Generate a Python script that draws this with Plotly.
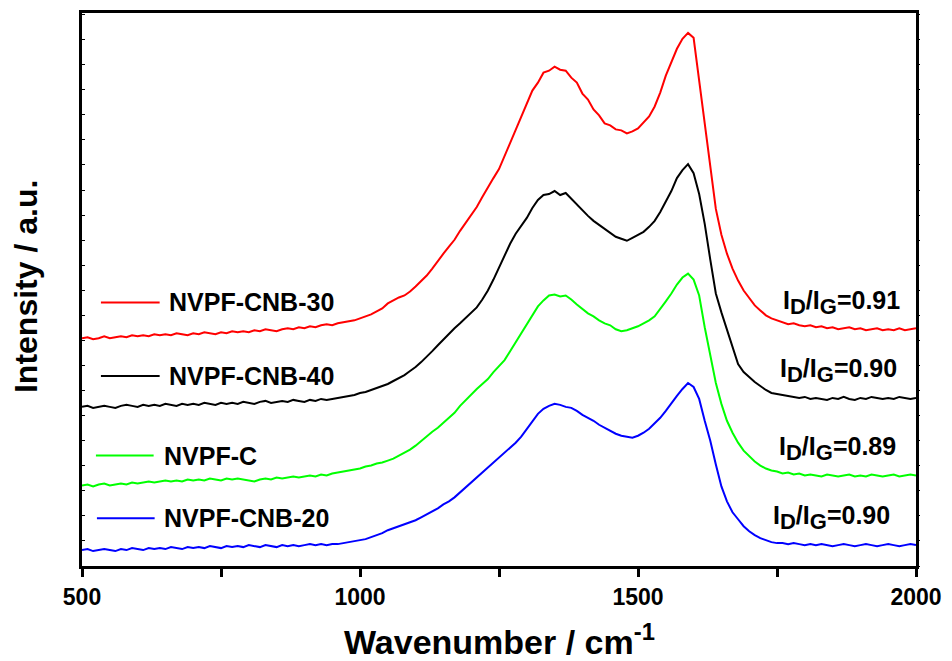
import plotly.graph_objects as go

# Wavenumber grid (cm^-1)
wavenumber = list(range(500, 2001, 10))

# Intensities (a.u., offset-stacked as in the figure)
nvpf_cnb_30 = [
    229, 230, 228, 229, 231, 229, 230, 231, 230, 232,
    231, 232, 231, 233, 232, 233, 232, 234, 233, 232,
    234, 233, 235, 234, 233, 235, 234, 236, 235, 236,
    235, 237, 236, 238, 237, 236, 238, 239, 238, 240,
    239, 241, 240, 242, 243, 242, 244, 245, 246, 247,
    249, 251, 253, 256, 259, 264, 267, 270, 272, 276,
    281, 286, 292, 299, 307, 314, 321, 328, 337, 345,
    352, 361, 371, 381, 390, 399, 412, 425, 438, 452,
    465, 478, 486, 496, 498, 502, 499, 498, 491, 486,
    475, 469, 459, 453, 445, 443, 439, 438, 435, 437,
    440, 446, 452, 462, 476, 493, 506, 520, 530, 536,
    531, 488, 440, 398, 359, 333, 314, 299, 287, 277,
    269, 262, 257, 252, 249, 247, 245, 243, 244, 242,
    241, 242, 240, 241, 239, 240, 238, 239, 240, 238,
    239, 237, 238, 239, 237, 238, 237, 239, 237, 238,
    239,
]

nvpf_cnb_40 = [
    160, 161, 159, 160, 161, 160, 159, 161, 162, 161,
    160, 162, 161, 162, 161, 163, 162, 161, 163, 162,
    163, 162, 164, 163, 162, 164, 163, 164, 163, 165,
    164, 163, 165, 166, 164, 165, 166, 165, 167, 166,
    165, 167, 166, 168, 167, 168, 169, 170, 171, 172,
    174, 175, 177, 179, 181, 183, 186, 189, 192, 196,
    200, 205, 210, 216, 222, 228, 234, 239, 244, 249,
    254, 260, 268, 277, 288, 300, 312, 324, 334, 342,
    350, 360, 368, 373, 374, 377, 373, 375, 369, 364,
    358, 352, 347, 343, 339, 335, 331, 329, 327, 330,
    333, 336, 341, 347, 356, 366, 377, 390, 398, 404,
    395, 374, 344, 308, 274, 255, 237, 219, 203, 195,
    190, 185, 181, 177, 174, 173, 172, 171, 170, 169,
    170, 168, 169, 168, 167, 169, 168, 170, 168, 167,
    169, 168, 170, 169, 168, 169, 168, 170, 169, 168,
    169,
]

nvpf_c = [
    81, 82, 80, 82, 83, 81, 82, 83, 82, 84,
    83, 84, 85, 84, 85, 86, 85, 86, 85, 87,
    86, 87, 86, 88, 87, 86, 88, 87, 88, 87,
    86, 85, 87, 88, 87, 89, 88, 89, 90, 89,
    90, 91, 90, 92, 91, 93, 94, 95, 96, 97,
    98, 100, 101, 103, 104, 106, 108, 111, 114, 117,
    121, 126, 130, 135, 139, 144, 149, 154, 161, 167,
    173, 178, 183, 188, 195, 201, 207, 216, 225, 234,
    244, 253, 261, 267, 272, 273, 271, 272, 268, 263,
    258, 254, 251, 247, 244, 242, 238, 236, 237, 239,
    241, 244, 247, 251, 258, 266, 274, 283, 290, 294,
    288, 272, 240, 210, 184, 163, 146, 134, 124, 116,
    110, 105, 101, 98, 96, 95, 93, 94, 92, 93,
    91, 92, 91, 90, 92, 91, 90, 91, 92, 90,
    91, 90, 92, 91, 90, 91, 92, 90, 91, 92,
    91,
]

nvpf_cnb_20 = [
    16, 17, 15, 16, 17, 16, 15, 17, 16, 18,
    17, 16, 18, 17, 18, 17, 19, 18, 17, 19,
    18, 19, 18, 20, 19, 18, 20, 19, 20, 19,
    21, 20, 19, 21, 20, 19, 21, 20, 21, 20,
    21, 22, 21, 22, 21, 22, 22, 23, 24, 25,
    26, 27, 29, 31, 33, 36, 38, 40, 42, 44,
    46, 49, 52, 55, 58, 62, 65, 69, 74, 79,
    84, 89, 94, 99, 104, 108, 113, 118, 124, 130,
    138, 146, 153, 158, 161, 163, 162, 160, 159, 156,
    152, 149, 146, 142, 139, 136, 133, 131, 130, 129,
    131, 134, 138, 143, 149, 156, 164, 171, 178, 184,
    180, 168, 146, 126, 102, 80, 65, 54, 47, 40,
    35, 31, 28, 26, 24, 23, 23, 22, 23, 22,
    21, 22, 21, 22, 21, 20, 21, 22, 21, 20,
    21, 22, 21, 20, 21, 22, 21, 20, 21, 22,
    21,
]

series_names = ["NVPF-CNB-30", "NVPF-CNB-40", "NVPF-C", "NVPF-CNB-20"]
series_values = [nvpf_cnb_30, nvpf_cnb_40, nvpf_c, nvpf_cnb_20]
series_colors = ["#FF0000", "#000000", "#00FF00", "#0000FF"]
ratio_labels = ["0.91", "0.90", "0.89", "0.90"]

x_tickvals = [500, 750, 1000, 1250, 1500, 1750, 2000]
x_ticktext = ["500", "", "1000", "", "1500", "", "2000"]

FONT = "Liberation Sans, Arial, sans-serif"

fig = go.Figure()
for name, vals, color in zip(series_names, series_values, series_colors):
    fig.add_trace(go.Scatter(x=wavenumber, y=vals, mode="lines", name=name,
                             line=dict(color=color, width=2), showlegend=False))

# empty trace on right-hand y axis so its ticks are drawn
fig.add_trace(go.Scatter(x=[None], y=[None], yaxis="y2", showlegend=False))

# custom legend (line sample + label), positioned like the original
legend_line_x = [(0.0227, 0.0931), (0.0227, 0.0931), (0.0167, 0.0859), (0.0179, 0.0871)]
legend_y = [0.4766, 0.3435, 0.1996, 0.0863]
legend_text_x = [0.1014, 0.1014, 0.0955, 0.0955]
for name, color, (x0, x1), ly, tx in zip(series_names, series_colors, legend_line_x, legend_y, legend_text_x):
    fig.add_shape(type="line", xref="paper", yref="paper", x0=x0, x1=x1, y0=ly, y1=ly,
                  line=dict(color=color, width=2))
    fig.add_annotation(xref="paper", yref="paper", x=tx, y=ly, text=name, showarrow=False,
                       xanchor="left", yanchor="middle",
                       font=dict(family=FONT, size=25, color="black", weight="bold"))

# I_D/I_G annotations
SUB = "<sub><span style='font-size:22px'>{}</span></sub>"
ratio_x = [0.983, 0.980, 0.979, 0.971]
ratio_y = [0.4766, 0.3543, 0.2131, 0.0872]
for r, rx, ry in zip(ratio_labels, ratio_x, ratio_y):
    fig.add_annotation(xref="paper", yref="paper", x=rx, y=ry,
                       text="I" + SUB.format("D") + "/I" + SUB.format("G") + "=" + r,
                       showarrow=False, xanchor="right", yanchor="middle",
                       font=dict(family=FONT, size=25, color="black", weight="bold"))

# axis titles
fig.add_annotation(xref="paper", yref="paper", x=0.5, y=-0.09, text="Wavenumber / cm<sup>-1</sup>",
                   showarrow=False, xanchor="center", yanchor="top",
                   font=dict(family=FONT, size=34, color="black", weight="bold"))
fig.add_annotation(xref="paper", yref="paper", x=-0.068, y=0.505, text="Intensity / a.u.",
                   showarrow=False, xanchor="center", yanchor="middle", textangle=-90,
                   font=dict(family=FONT, size=32, color="black", weight="bold"))

fig.update_layout(
    width=952, height=661,
    margin=dict(l=82, r=32, t=10, b=95),
    paper_bgcolor="white", plot_bgcolor="white",
    xaxis=dict(range=[500, 2000], tickmode="array", tickvals=x_tickvals, ticktext=x_ticktext,
               ticks="outside", ticklen=8, tickwidth=2.5, tickcolor="black",
               showline=True, linewidth=3, linecolor="black", mirror=True,
               showgrid=False, zeroline=False,
               tickfont=dict(family=FONT, size=23, color="black", weight="bold")),
    yaxis=dict(range=[0, 556], tick0=0, dtick=25.2, ticks="inside", ticklen=3, tickwidth=1,
               tickcolor="black", showticklabels=False,
               showline=True, linewidth=3, linecolor="black", mirror=True,
               showgrid=False, zeroline=False),
    yaxis2=dict(range=[0, 556], tick0=0, dtick=25.2, overlaying="y", side="right",
                ticks="outside", ticklen=3, tickwidth=1, tickcolor="black",
                showticklabels=False, showgrid=False, zeroline=False, showline=False),
)

fig.write_html("out.html")
